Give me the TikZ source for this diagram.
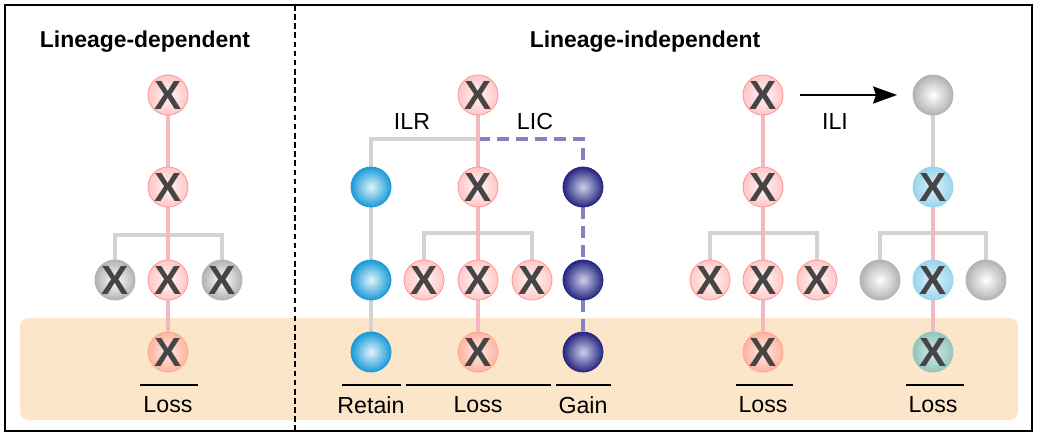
\documentclass[tikz,border=0pt]{standalone}
\usepackage{fontspec}
\setmainfont{Liberation Sans}
\usepackage{xcolor}
\usepackage{tikz}
\usetikzlibrary{arrows.meta,backgrounds,calc}

\definecolor{pinkln}{HTML}{F4B9BE}
\definecolor{grayln}{HTML}{D3D3D3}
\definecolor{dashln}{HTML}{8283C0}
\definecolor{bandcol}{HTML}{FCE6C9}
\definecolor{xtext}{HTML}{454545}
\definecolor{cyanout}{HTML}{1A9AD6}
\definecolor{cyanin}{HTML}{E2F4FB}
\definecolor{navyout}{HTML}{262680}
\definecolor{navyin}{HTML}{CFCFEC}
\definecolor{skyout}{HTML}{9AD5EE}
\definecolor{skyin}{HTML}{DDF1F9}
\definecolor{tealout}{HTML}{93C5BE}
\definecolor{tealin}{HTML}{D6EAE4}

\begin{document}
\begin{tikzpicture}[x=0.025cm,y=-0.025cm,
  ball/.style={circle,minimum size=1cm,inner sep=0pt,line width=0.6pt,
               font=\fontsize{29}{29}\selectfont\bfseries,text=xtext},
  pinkx/.style={ball,draw=red!35!pink!80,inner color=red!4,outer color=red!22},
  lossx/.style={ball,draw=orange!50!red!45,inner color=orange!15!red!10,outer color=orange!45!red!38},
  grayx/.style={ball,draw=gray!60,inner color=white,outer color=gray!60},
  grayb/.style={grayx},
  cyanb/.style={ball,draw=cyanout,inner color=cyanin,outer color=cyanout},
  navyb/.style={ball,draw=navyout,inner color=navyin,outer color=navyout},
  bluex/.style={ball,draw=skyout,inner color=skyin,outer color=skyout},
  tealx/.style={ball,draw=tealout,inner color=tealin,outer color=tealout},
  pinkline/.style={draw=pinkln,line width=2.4pt},
  grayline/.style={draw=grayln,line width=2.8pt},
  dashline/.style={draw=dashln,line width=2.4pt,dash pattern=on 8.5pt off 5pt},
  bar/.style={draw=black,line width=0.8pt},
  lbl/.style={font=\fontsize{16.5}{18}\selectfont},
  title/.style={font=\fontsize{16.3}{18}\selectfont\bfseries}]
  \useasboundingbox (0,0) rectangle (1038,437);

  % titles
  \node[title] (tdep) at (145,42) {Lineage-dependent};
  \node[title] (tind) at (645,42) {Lineage-independent};

  % lineage-dependent tree
  \node[pinkx] (a1) at (168,95) {X};
  \node[pinkx] (a2) at (168,187) {X};
  \node[grayx] (a3l) at (115,280) {X};
  \node[pinkx] (a3) at (168,280) {X};
  \node[grayx] (a3r) at (222,280) {X};
  \node[lossx] (a4) at (168,352) {X};
  \coordinate (ka) at (168,235);

  % ILR / LIC tree
  \node[pinkx] (b1) at (478,95) {X};
  \node[cyanb] (b2l) at (371,187) {};
  \node[pinkx] (b2) at (478,187) {X};
  \node[navyb] (b2r) at (583,187) {};
  \node[cyanb] (b3ll) at (371,280) {};
  \node[pinkx] (b3l) at (424,280) {X};
  \node[pinkx] (b3) at (478,280) {X};
  \node[pinkx] (b3r) at (532,280) {X};
  \node[navyb] (b3rr) at (583,280) {};
  \node[cyanb] (b4l) at (371,352) {};
  \node[lossx] (b4) at (478,352) {X};
  \node[navyb] (b4r) at (583,352) {};
  \coordinate (kb) at (478,139);
  \coordinate (kb2) at (478,233);
  \node[lbl] (ilr) at (412,122) {ILR};
  \node[lbl] (lic) at (535,122) {LIC};

  % ILI: before
  \node[pinkx] (c1) at (763,95) {X};
  \node[pinkx] (c2) at (763,187) {X};
  \node[pinkx] (c3l) at (710,280) {X};
  \node[pinkx] (c3) at (763,280) {X};
  \node[pinkx] (c3r) at (817,280) {X};
  \node[lossx] (c4) at (763,352) {X};
  \coordinate (kc) at (763,233);

  % ILI: after
  \node[grayb] (d1) at (933,95) {};
  \node[bluex] (d2) at (933,187) {X};
  \node[grayb] (d3l) at (880,280) {};
  \node[bluex] (d3) at (933,280) {X};
  \node[grayb] (d3r) at (986,280) {};
  \node[tealx] (d4) at (933,352) {X};
  \coordinate (kd) at (933,233);
  \node[lbl] (ili) at (835,122) {ILI};

  \draw[-{Stealth[length=17pt,width=12pt,inset=2pt]},line width=2.1pt,shorten <=12pt,shorten >=11pt] (c1) -- (d1);

  % bottom labels
  \node[lbl] (la) at (168,405) {Loss};
  \node[lbl] (lb1) at (371,405) {Retain};
  \node[lbl] (lb2) at (478,405) {Loss};
  \node[lbl] (lb3) at (583,405) {Gain};
  \node[lbl] (lc) at (763,405) {Loss};
  \node[lbl] (ld) at (933,405) {Loss};
  \draw[bar] (140,385) -- (198,385);
  \draw[bar] (342,385) -- (401,385);
  \draw[bar] (406,385) -- (551,385);
  \draw[bar] (556,385) -- (611,385);
  \draw[bar] (736,385) -- (793,385);
  \draw[bar] (906,385) -- (964,385);

  \begin{scope}[on background layer]
    \fill[bandcol,rounded corners=6pt] (20,318) rectangle (1018,420);
    \draw[grayline] (a3l) |- (ka) -| (a3r);
    \draw[pinkline] (a1) -- (a2) -- (a3) -- (a4);

    \draw[grayline] (b2l) |- (kb);
    \draw[dashline] (kb) -| (b2r);
    \draw[grayline] (b2l) -- (b3ll) -- (b4l);
    \draw[grayline] (b3l) |- (kb2) -| (b3r);
    \draw[dashline] (b2r) -- (b3rr) -- (b4r);
    \draw[pinkline] (b1) -- (b2) -- (b3) -- (b4);

    \draw[grayline] (c3l) |- (kc) -| (c3r);
    \draw[pinkline] (c1) -- (c2) -- (c3) -- (c4);

    \draw[grayline] (d3l) |- (kd) -| (d3r);
    \draw[grayline] (d1) -- (d2);
    \draw[pinkline] (d2) -- (d3) -- (d4);
  \end{scope}

  \draw[dashed,line width=0.9pt,dash pattern=on 4pt off 2.5pt] (295,5) -- (295,431);
  \draw[line width=1.1pt] (5,5) rectangle (1032,431);
\end{tikzpicture}
\end{document}
